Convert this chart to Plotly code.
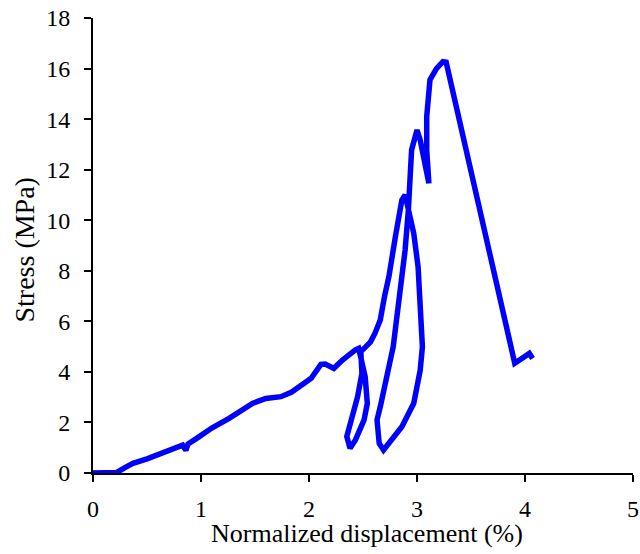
import plotly.graph_objects as go

# Normalized displacement (%) and stress (MPa), traced along the loading path
displacement = [0.00, 0.10, 0.22, 0.30, 0.37, 0.50, 0.59, 0.72, 0.83, 0.86, 0.88, 0.96,
                1.10, 1.26, 1.40, 1.48, 1.60, 1.74, 1.84, 1.94, 2.02, 2.11, 2.15, 2.23,
                2.31, 2.43, 2.46, 2.52, 2.54, 2.51, 2.43, 2.38, 2.35, 2.40, 2.45, 2.49,
                2.48, 2.52, 2.57, 2.61, 2.66, 2.70, 2.74, 2.80, 2.86, 2.89, 2.92, 2.97,
                3.01, 3.04, 3.05, 3.03, 2.97, 2.86, 2.77, 2.69, 2.65, 2.63, 2.66, 2.72,
                2.78, 2.81, 2.89, 2.92, 2.95, 3.00, 3.03, 3.11, 3.09, 3.09, 3.11, 3.12,
                3.18, 3.24, 3.27, 3.905, 4.04, 4.07]
stress = [0.00, 0.00, 0.02, 0.22, 0.38, 0.56, 0.71, 0.90, 1.10, 0.90, 1.15, 1.37,
          1.78, 2.16, 2.55, 2.76, 2.95, 3.02, 3.20, 3.48, 3.75, 4.30, 4.31, 4.14,
          4.47, 4.87, 4.93, 3.81, 2.76, 2.10, 1.31, 0.98, 1.44, 2.23, 3.02, 3.94,
          4.80, 4.97, 5.19, 5.52, 6.05, 7.00, 7.77, 9.35, 10.80, 11.00, 10.40, 9.48,
          8.16, 6.18, 5.00, 4.07, 2.76, 1.83, 1.31, 0.91, 1.17, 2.10, 2.62, 3.80,
          5.00, 6.05, 8.82, 10.40, 12.78, 13.57, 13.17, 11.46, 12.78, 14.10, 15.00, 15.55,
          16.00, 16.27, 16.25, 4.34, 4.73, 4.53]

x_ticks = [0, 1, 2, 3, 4, 5]
y_ticks = [0, 2, 4, 6, 8, 10, 12, 14, 16, 18]

serif = "Liberation Serif"
tick_font = dict(family=serif, size=24, color="black")

fig = go.Figure(go.Scatter(x=displacement, y=stress, mode="lines",
                           line=dict(color="#0000FF", width=5.5), showlegend=False))

fig.update_layout(
    width=640, height=554,
    margin=dict(l=93, r=7, t=18, b=81),
    paper_bgcolor="white", plot_bgcolor="white",
    font=tick_font,
)
fig.update_xaxes(range=[0, 5], tickvals=x_ticks, showline=True, linecolor="black", linewidth=2,
                 ticks="outside", ticklen=7, tickwidth=2, tickcolor="black", showgrid=False,
                 zeroline=False, automargin=False, tickfont=tick_font,
                 ticklabelstandoff=6, ticklabeloverflow="allow")
fig.update_yaxes(range=[0, 18], tickvals=y_ticks, showline=True, linecolor="black", linewidth=2,
                 ticks="outside", ticklen=7, tickwidth=2, tickcolor="black", showgrid=False,
                 zeroline=False, automargin=False, tickfont=tick_font,
                 ticklabelstandoff=9, ticklabeloverflow="allow")

fig.add_annotation(text="Normalized displacement (%)", xref="paper", yref="paper",
                   x=0.508, y=0, yshift=-60, xanchor="center", yanchor="middle",
                   showarrow=False, font=dict(family=serif, size=26, color="black"))
fig.add_annotation(text="Stress (MPa)", xref="paper", yref="paper",
                   x=0, y=0.5, xshift=-69, yshift=-5, xanchor="center", yanchor="middle",
                   textangle=-90, showarrow=False,
                   font=dict(family=serif, size=28, color="black"))

# remove the default 8px page margin so the figure fills the 640x554 window exactly
fig.write_html("out.html", config={"displayModeBar": False},
               post_script="document.body.style.margin='0';document.body.style.overflow='hidden';")
